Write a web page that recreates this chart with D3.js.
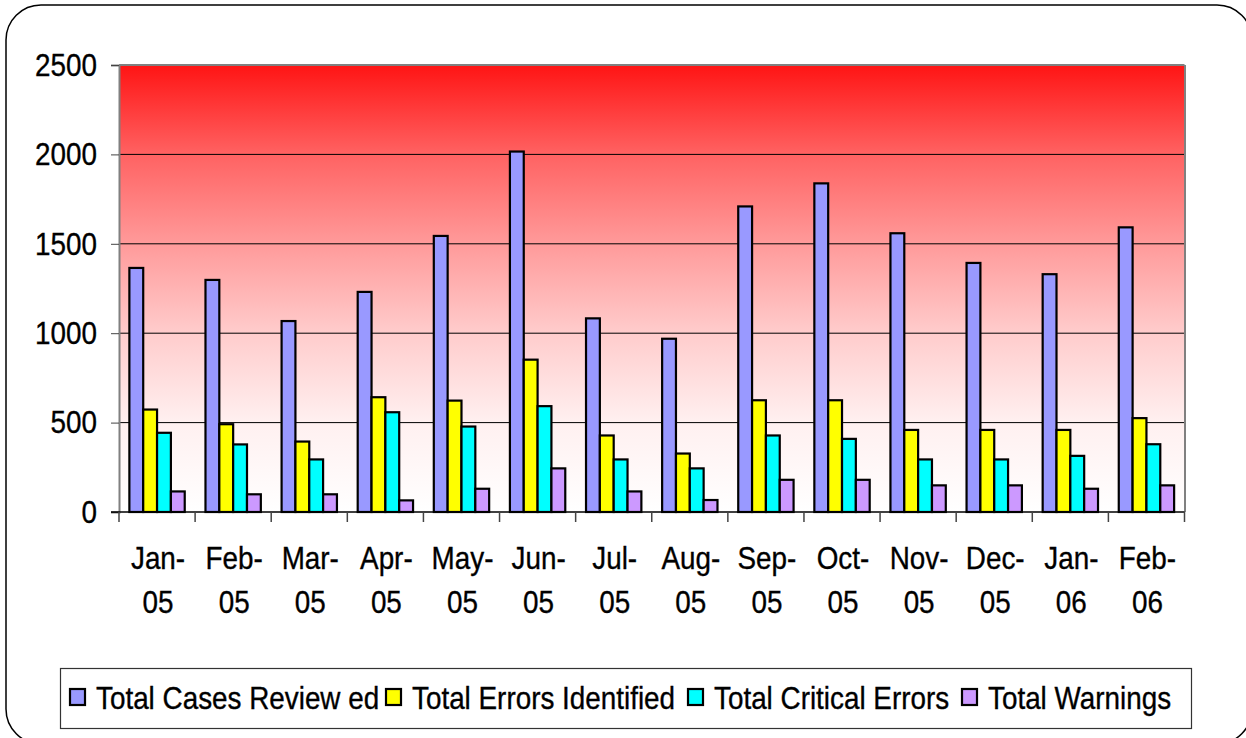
<!DOCTYPE html>
<html>
<head>
<meta charset="utf-8">
<script src="https://cdn.jsdelivr.net/npm/d3@7"></script>
<style>
  body { margin: 0; background: #fff; }
  svg text { font-family: "Liberation Sans", Arial, sans-serif; fill: #000; stroke: #000; stroke-width: 0.35px; }
</style>
</head>
<body>
<svg id="chart" width="1246" height="738"></svg>
<script>
const months = ["Jan-05", "Feb-05", "Mar-05", "Apr-05", "May-05", "Jun-05", "Jul-05",
  "Aug-05", "Sep-05", "Oct-05", "Nov-05", "Dec-05", "Jan-06", "Feb-06"];

const seriesNames = ["Total Cases Review ed", "Total Errors Identified", "Total Critical Errors", "Total Warnings"];
const seriesColors = ["#9999ff", "#ffff00", "#00ffff", "#cc99ff"];

const casesReviewed = [1365, 1298, 1068, 1231, 1544, 2016, 1083, 969, 1709, 1838, 1559, 1393, 1330, 1592];
const errorsIdentified = [573, 491, 394, 642, 623, 852, 428, 327, 625, 625, 459, 459, 459, 525];
const criticalErrors = [443, 378, 294, 558, 478, 592, 294, 244, 428, 409, 294, 294, 314, 379];
const warnings = [115, 99, 99, 65, 130, 244, 115, 67, 180, 180, 149, 149, 130, 149];

const yTicks = [0, 500, 1000, 1500, 2000, 2500];

const seriesValues = [casesReviewed, errorsIdentified, criticalErrors, warnings];

const FONT = "32px";
const SQUEEZE = 0.87;

const svg = d3.select("#chart");

const plot = { left: 119, right: 1184.5, top: 65, bottom: 512 };

// outer rounded frame
svg.append("rect")
  .attr("x", 6).attr("y", 5)
  .attr("width", 1246).attr("height", 739)
  .attr("rx", 35).attr("ry", 35)
  .attr("fill", "none")
  .attr("stroke", "#000")
  .attr("stroke-width", 1.5);

// background gradient
const defs = svg.append("defs");
const grad = defs.append("linearGradient")
  .attr("id", "bg").attr("x1", 0).attr("y1", 0).attr("x2", 0).attr("y2", 1);
[[0, "#ff1414"], [0.2, "#ff6262"], [0.4, "#ff9a9a"], [0.6, "#ffcccc"], [0.8, "#fff0f0"], [1, "#ffffff"]]
  .forEach(s => grad.append("stop").attr("offset", s[0]).attr("stop-color", s[1]));

const x = d3.scaleBand()
  .domain(months)
  .range([plot.left, plot.right])
  .padding(0);

const xs = d3.scaleBand()
  .domain(d3.range(seriesNames.length))
  .range([0, x.bandwidth()])
  .paddingInner(0)
  .paddingOuter(0.75);

const y = d3.scaleLinear()
  .domain([0, 2500])
  .range([plot.bottom, plot.top]);

svg.append("rect")
  .attr("x", plot.left).attr("y", plot.top)
  .attr("width", plot.right - plot.left)
  .attr("height", plot.bottom - plot.top)
  .attr("fill", "url(#bg)");

// gridlines
svg.append("g")
  .selectAll("line")
  .data(yTicks.slice(1))
  .join("line")
  .attr("x1", plot.left).attr("x2", plot.right)
  .attr("y1", d => y(d)).attr("y2", d => y(d))
  .attr("stroke", d => d === 2500 ? "#808080" : "#000")
  .attr("stroke-width", d => d === 2500 ? 2 : 1);

// right border
svg.append("line")
  .attr("x1", plot.right + 0.5).attr("x2", plot.right + 0.5)
  .attr("y1", plot.top).attr("y2", plot.bottom)
  .attr("stroke", "#808080").attr("stroke-width", 2);

// bars
const groups = svg.append("g")
  .selectAll("g")
  .data(months)
  .join("g")
  .attr("transform", d => `translate(${x(d)},0)`);

groups.selectAll("rect")
  .data((m, i) => seriesValues.map((vals, s) => ({ s, v: vals[i] })))
  .join("rect")
  .attr("x", d => xs(d.s))
  .attr("y", d => y(d.v))
  .attr("width", xs.bandwidth())
  .attr("height", d => y(0) - y(d.v))
  .attr("fill", d => seriesColors[d.s])
  .attr("stroke", "#000")
  .attr("stroke-width", 2.2);

// y axis
const yAxis = svg.append("g")
  .attr("transform", `translate(${plot.left},0)`)
  .call(d3.axisLeft(y).tickValues(yTicks).tickSize(8).tickPadding(14).tickFormat(d3.format("d")));
yAxis.select(".domain").attr("stroke", "#808080").attr("stroke-width", 2);
yAxis.selectAll(".tick line").attr("stroke", "#444");
yAxis.selectAll("text").style("font-size", FONT).attr("fill", "#000");

// x axis line + ticks at category boundaries
svg.append("line")
  .attr("x1", plot.left - 8).attr("x2", plot.right)
  .attr("y1", plot.bottom).attr("y2", plot.bottom)
  .attr("stroke", "#000").attr("stroke-width", 1.5);

svg.append("g")
  .selectAll("line")
  .data(months.concat(["end"]))
  .join("line")
  .attr("x1", (d, i) => i < months.length ? x(d) : plot.right)
  .attr("x2", (d, i) => i < months.length ? x(d) : plot.right)
  .attr("y1", plot.bottom).attr("y2", plot.bottom + 10)
  .attr("stroke", "#444").attr("stroke-width", 1.5);

// category labels, two lines
const xLabels = svg.append("g");
months.forEach(m => {
  const parts = [m.slice(0, 4), m.slice(4)];
  parts.forEach((p, j) => {
    xLabels.append("text")
      .attr("x", x(m) + x.bandwidth() / 2 + 1)
      .attr("y", 569 + j * 44)
      .attr("text-anchor", "middle")
      .style("font-size", FONT)
      .text(p);
  });
});

// legend
const legend = svg.append("g");
legend.append("rect")
  .attr("x", 60.5).attr("y", 668.5)
  .attr("width", 1131).attr("height", 60)
  .attr("fill", "#fff")
  .attr("stroke", "#333").attr("stroke-width", 1.2);

const legendStarts = [70, 386, 688, 962];
seriesNames.forEach((name, i) => {
  legend.append("rect")
    .attr("x", legendStarts[i]).attr("y", 689)
    .attr("width", 15).attr("height", 16)
    .attr("fill", seriesColors[i])
    .attr("stroke", "#000").attr("stroke-width", 2.2);
  legend.append("text")
    .attr("x", legendStarts[i] + 26)
    .attr("y", 709)
    .style("font-size", FONT)
    .text(name);
});

// horizontal condensing of all text to match the narrow face
svg.selectAll("text").each(function () {
  const w = this.getComputedTextLength();
  d3.select(this).attr("textLength", w * SQUEEZE).attr("lengthAdjust", "spacingAndGlyphs");
});
</script>
</body>
</html>
